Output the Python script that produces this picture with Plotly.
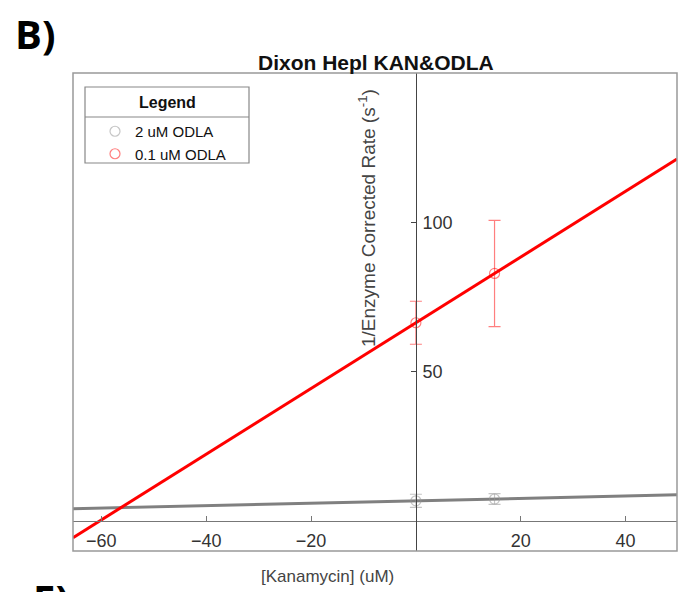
import numpy as np
import plotly.graph_objects as go

# Dixon plot data: 1/rate vs inhibitor concentration
kan_conc = [0, 15]                      # [Kanamycin] (uM)
rate_2uM = [6.8, 7.4]                   # 1/rate, 2 uM ODLA
err_2uM = [2.2, 1.8]
rate_01uM = [66.4, 82.9]                # 1/rate, 0.1 uM ODLA
err_01uM = [7.2, 17.8]

series_names = ["2 uM ODLA", "0.1 uM ODLA"]
x_range = [-65.4, 49.8]
y_range = [-10, 150]
x_ticks = [-60, -40, -20, 20, 40]
y_ticks = [50, 100]

W, H = 680, 592
M = dict(l=73, r=3, t=73, b=41)
pw = W - M["l"] - M["r"]
ph = H - M["t"] - M["b"]


def px_x(p):
    return (p - M["l"]) / pw


def px_y(p):
    return (H - M["b"] - p) / ph


font = "Liberation Sans, Arial, sans-serif"
RED = "#ff0000"
RED_T = "rgba(255,0,0,0.5)"
GRAY = "#808080"
GRAY_T = "rgba(150,150,150,0.55)"

fig = go.Figure()

# linear fits through each series, drawn across the full x range
xl = np.array(x_range)
for ys, col in [(rate_2uM, GRAY), (rate_01uM, RED)]:
    m, b = np.polyfit(kan_conc, ys, 1)
    fig.add_trace(go.Scatter(x=xl, y=m * xl + b, mode="lines",
                             line=dict(color=col, width=3), showlegend=False,
                             hoverinfo="skip"))

for ys, es, col, name in [(rate_2uM, err_2uM, GRAY_T, series_names[0]),
                          (rate_01uM, err_01uM, RED_T, series_names[1])]:
    fig.add_trace(go.Scatter(
        x=kan_conc, y=ys, mode="markers", name=name,
        marker=dict(symbol="circle-open", size=10, color=col,
                    line=dict(width=1.2, color=col)),
        error_y=dict(type="data", array=es, visible=True, color=col,
                     thickness=1.2, width=6),
    ))

x0_pos = (0 - y_range[0]) / (y_range[1] - y_range[0])
y0_pos = (0 - x_range[0]) / (x_range[1] - x_range[0])

fig.update_layout(
    width=W, height=H, margin=M,
    paper_bgcolor="white", plot_bgcolor="white",
    font=dict(family=font, size=17, color="#333"),
    xaxis=dict(range=x_range, anchor="free", position=x0_pos,
               showline=True, linecolor="#777", linewidth=1,
               ticks="inside", ticklen=5, tickcolor="#777",
               tickvals=x_ticks, showgrid=False, zeroline=False,
               ticklabelstandoff=3,
               tickfont=dict(size=18, color="#333")),
    yaxis=dict(range=y_range, anchor="free", position=y0_pos, side="right",
               showline=True, linecolor="#444", linewidth=1,
               ticks="inside", ticklen=5, tickcolor="#444",
               tickvals=y_ticks, showgrid=False, zeroline=False,
               ticklabelstandoff=2,
               tickfont=dict(size=18, color="#333")),
    showlegend=True,
    legend=dict(x=px_x(95), y=px_y(115), xanchor="left", yanchor="top",
                bgcolor="rgba(0,0,0,0)", borderwidth=0,
                font=dict(family=font, size=15, color="#111"),
                tracegroupgap=0, itemwidth=30),
)

shapes = [
    # axes frame
    dict(type="rect", xref="paper", yref="paper", x0=0, x1=1, y0=0, y1=1,
         line=dict(color="#999", width=1.5), layer="above"),
    # legend box and title separator
    dict(type="rect", xref="paper", yref="paper",
         x0=px_x(85), x1=px_x(249), y0=px_y(163), y1=px_y(87),
         line=dict(color="#888", width=1.2), fillcolor="rgba(0,0,0,0)"),
    dict(type="line", xref="paper", yref="paper",
         x0=px_x(85), x1=px_x(249), y0=px_y(117), y1=px_y(117),
         line=dict(color="#888", width=1.2)),
]
fig.update_layout(shapes=shapes)

annotations = [
    dict(text="<b>Dixon Hepl KAN&ODLA</b>", xref="paper", yref="paper",
         x=px_x(376), y=px_y(62), xanchor="center", yanchor="middle",
         showarrow=False, font=dict(family=font, size=21, color="#111")),
    dict(text="<b>Legend</b>", xref="paper", yref="paper",
         x=px_x(167), y=px_y(102), xanchor="center", yanchor="middle",
         showarrow=False, font=dict(family=font, size=16, color="#111")),
    dict(text="[Kanamycin] (uM)", xref="paper", yref="paper",
         x=px_x(327), y=px_y(576), xanchor="center", yanchor="middle",
         showarrow=False, font=dict(family=font, size=17, color="#444")),
    dict(text="1/Enzyme Corrected Rate (s<sup>-1</sup>)", xref="paper",
         yref="paper", x=px_x(367), y=px_y(218), xanchor="center",
         yanchor="middle", textangle=-90, showarrow=False,
         font=dict(family=font, size=19, color="#444")),
    dict(text="<b>B)</b>", xref="paper", yref="paper",
         x=px_x(13), y=px_y(33), xanchor="left", yanchor="middle",
         showarrow=False, font=dict(family="Open Sans, sans-serif", size=40,
                                    color="#000")),
    dict(text="<b>E)</b>", xref="paper", yref="paper",
         x=px_x(31), y=px_y(598), xanchor="left", yanchor="middle",
         showarrow=False, font=dict(family="Open Sans, sans-serif", size=40,
                                    color="#000")),
]
fig.update_layout(annotations=annotations)

fig.write_html("out.html")
